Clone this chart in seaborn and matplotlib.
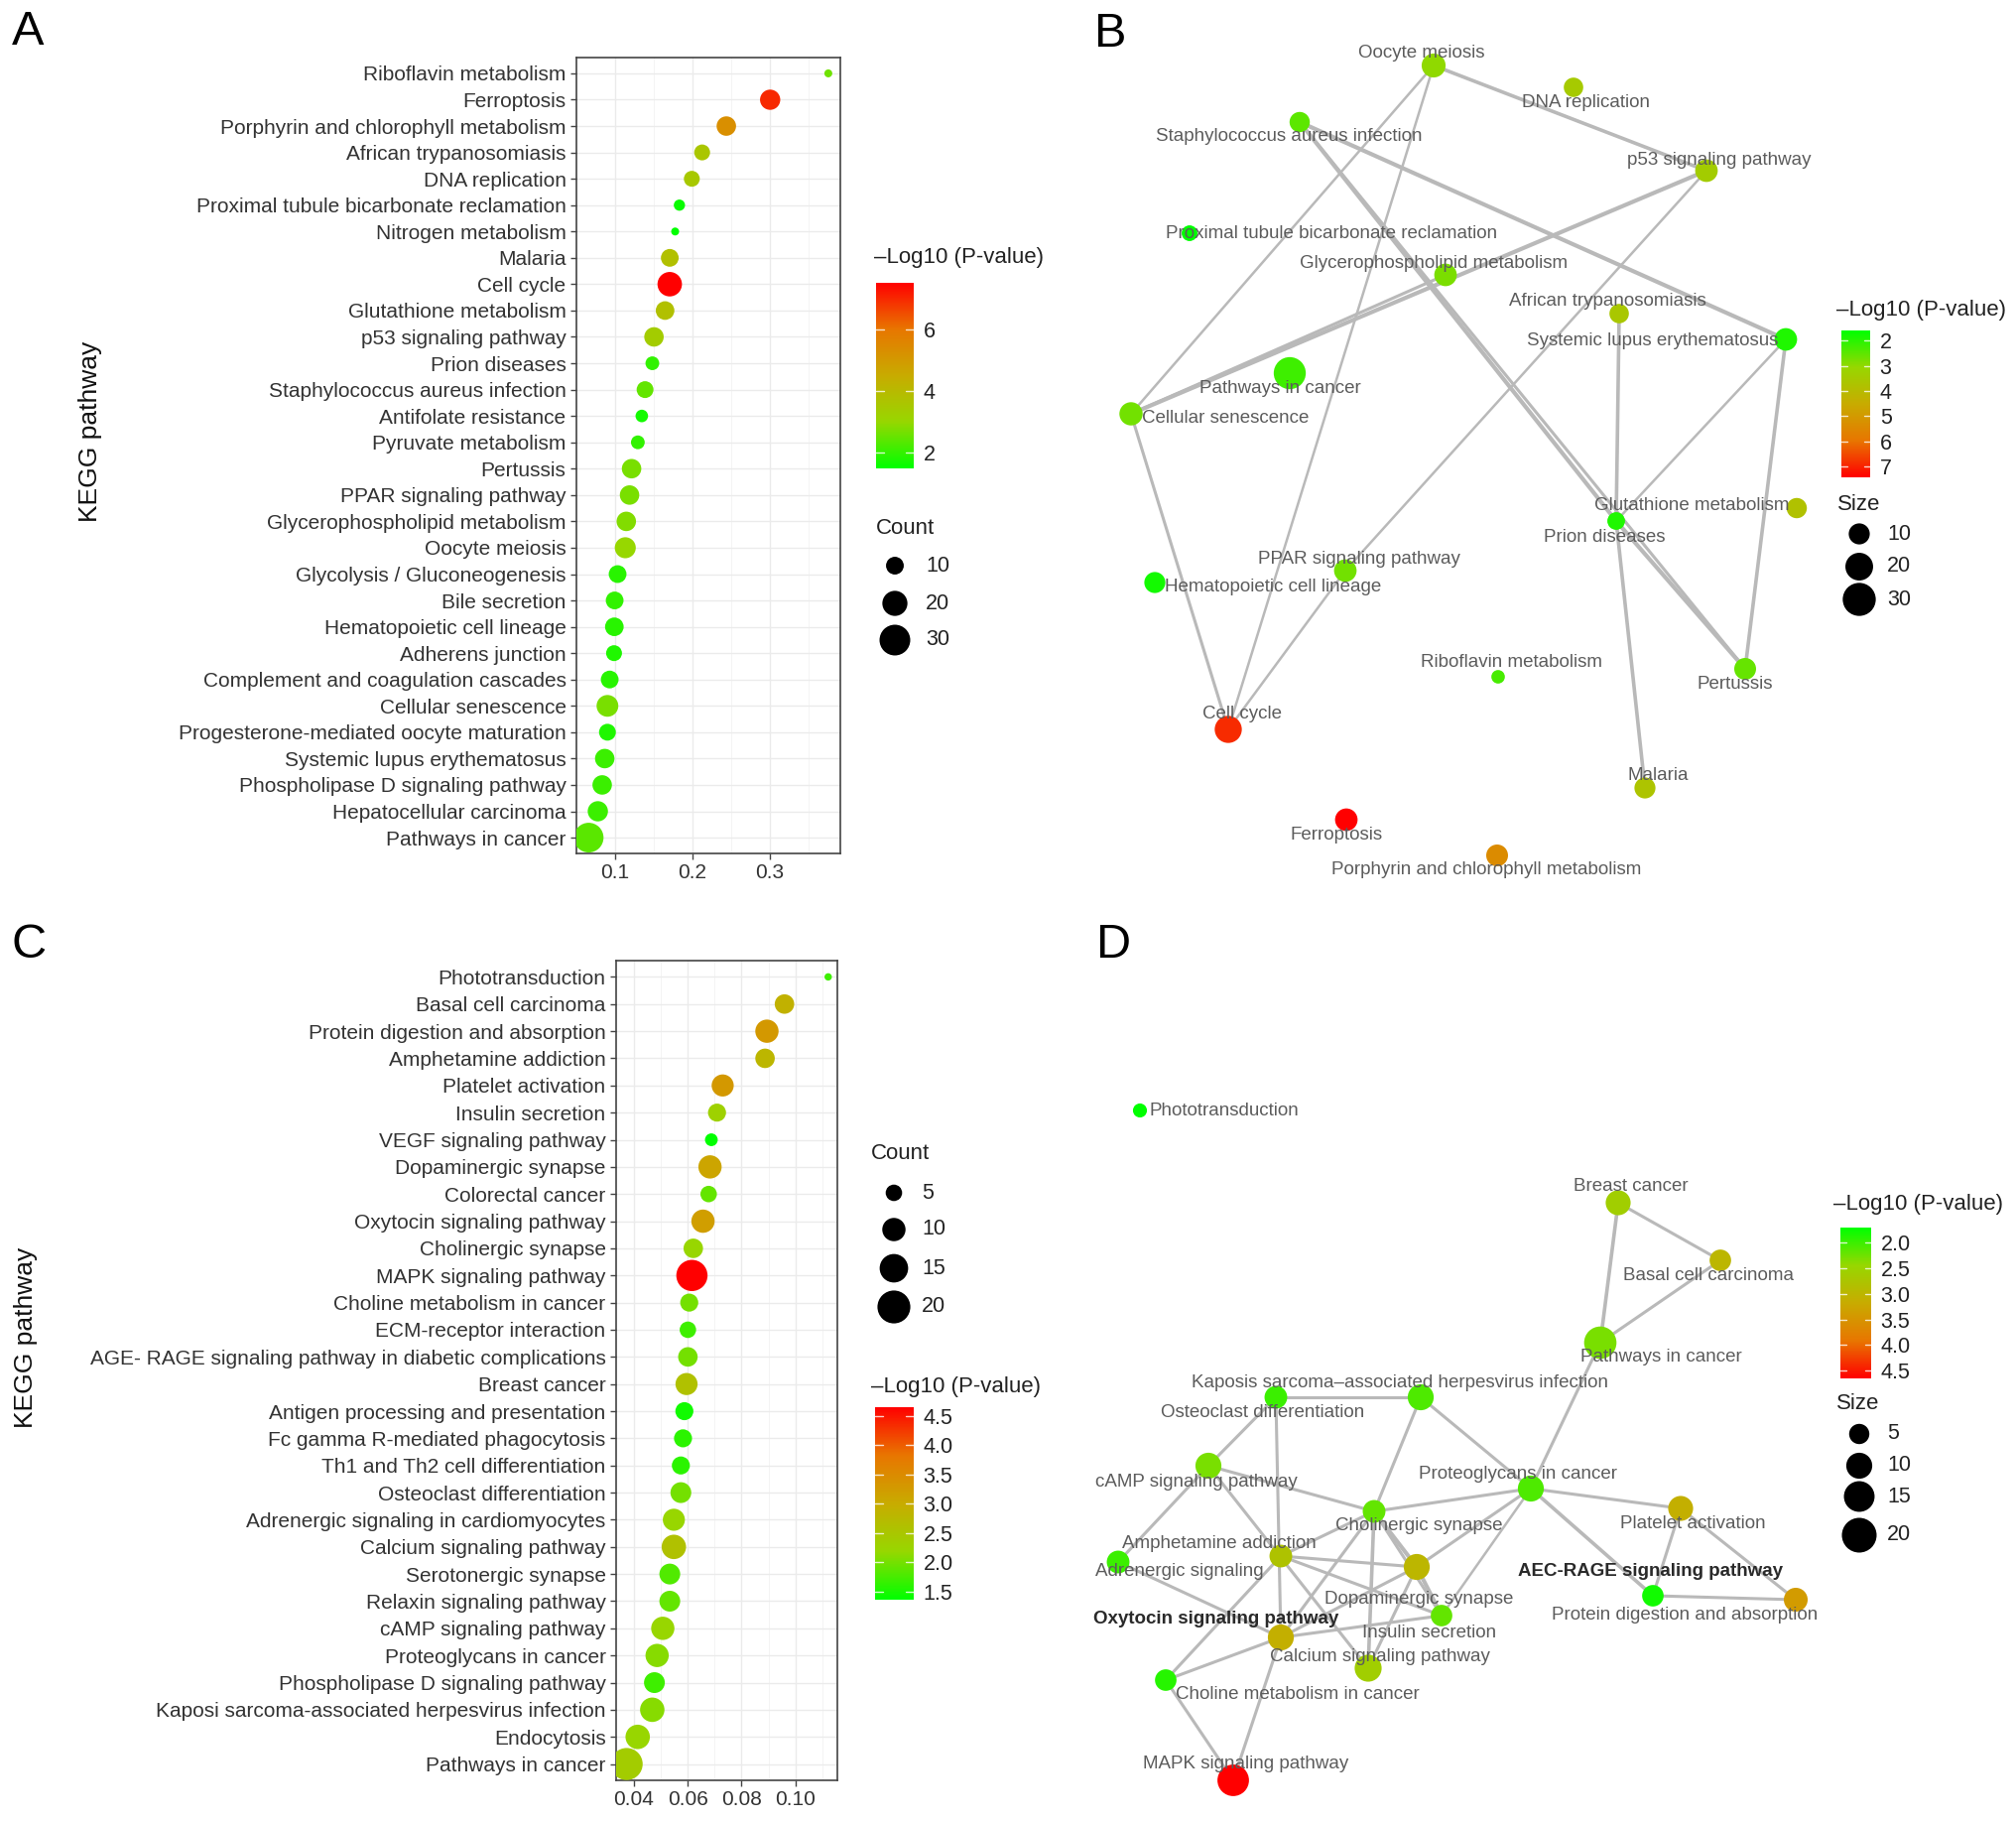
import numpy as np
import pandas as pd
import matplotlib
matplotlib.use('Agg')
import matplotlib.pyplot as plt
import seaborn as sns
from matplotlib.colors import LinearSegmentedColormap, Normalize
from matplotlib.cm import ScalarMappable
from matplotlib.ticker import MultipleLocator

W, H, DPI = 2032, 1836, 100

# ---- panel A: KEGG dot plot ----
terms_a = ['Riboflavin metabolism', 'Ferroptosis', 'Porphyrin and chlorophyll metabolism',
           'African trypanosomiasis', 'DNA replication', 'Proximal tubule bicarbonate reclamation',
           'Nitrogen metabolism', 'Malaria', 'Cell cycle', 'Glutathione metabolism',
           'p53 signaling pathway', 'Prion diseases', 'Staphylococcus aureus infection',
           'Antifolate resistance', 'Pyruvate metabolism', 'Pertussis', 'PPAR signaling pathway',
           'Glycerophospholipid metabolism', 'Oocyte meiosis', 'Glycolysis / Gluconeogenesis',
           'Bile secretion', 'Hematopoietic cell lineage', 'Adherens junction',
           'Complement and coagulation cascades', 'Cellular senescence',
           'Progesterone-mediated oocyte maturation', 'Systemic lupus erythematosus',
           'Phospholipase D signaling pathway', 'Hepatocellular carcinoma', 'Pathways in cancer']
ratio_a = [0.3755, 0.3005, 0.244, 0.2128, 0.1995, 0.1835, 0.178, 0.1711, 0.171, 0.165,
           0.1507, 0.1486, 0.1392, 0.135, 0.1299, 0.1218, 0.1192, 0.115, 0.1137, 0.1038,
           0.100, 0.0996, 0.0992, 0.0936, 0.0907, 0.0907, 0.0872, 0.0839, 0.0783, 0.0665]
logp_a = [2.6, 7.0, 5.3, 3.6, 3.5, 1.6, 1.49, 3.8, 7.53, 3.8,
          3.4, 2.0, 2.5, 1.7, 2.0, 2.7, 2.7, 2.8, 3.0, 1.9,
          2.0, 1.9, 1.8, 1.9, 2.7, 1.8, 2.1, 2.1, 2.1, 2.4]
count_a = [2, 13, 12, 8, 8, 4, 2, 10, 19, 11,
           12, 6, 9, 5, 6, 12, 12, 12, 14, 10,
           10, 11, 8, 10, 15, 9, 12, 12, 13, 28]

# ---- panel C: KEGG dot plot ----
terms_c = ['Phototransduction', 'Basal cell carcinoma', 'Protein digestion and absorption',
           'Amphetamine addiction', 'Platelet activation', 'Insulin secretion',
           'VEGF signaling pathway', 'Dopaminergic synapse', 'Colorectal cancer',
           'Oxytocin signaling pathway', 'Cholinergic synapse', 'MAPK signaling pathway',
           'Choline metabolism in cancer', 'ECM-receptor interaction',
           'AGE- RAGE signaling pathway in diabetic complications', 'Breast cancer',
           'Antigen processing and presentation', 'Fc gamma R-mediated phagocytosis',
           'Th1 and Th2 cell differentiation', 'Osteoclast differentiation',
           'Adrenergic signaling in cardiomyocytes', 'Calcium signaling pathway',
           'Serotonergic synapse', 'Relaxin signaling pathway', 'cAMP signaling pathway',
           'Proteoglycans in cancer', 'Phospholipase D signaling pathway',
           'Kaposi sarcoma-associated herpesvirus infection', 'Endocytosis', 'Pathways in cancer']
ratio_c = [0.1121, 0.0959, 0.0894, 0.0887, 0.0730, 0.0709, 0.0688, 0.0683, 0.0678, 0.0657,
           0.0621, 0.0616, 0.0606, 0.0601, 0.0601, 0.0596, 0.0588, 0.0583, 0.0575, 0.0575,
           0.0549, 0.0549, 0.0534, 0.0534, 0.0508, 0.0487, 0.0477, 0.0469, 0.0415, 0.0374]
logp_c = [1.7, 2.9, 3.3, 2.8, 3.3, 2.3, 1.36, 3.1, 1.9, 3.2,
          2.2, 4.65, 2.0, 1.7, 2.0, 2.6, 1.45, 1.6, 1.6, 2.0,
          2.2, 2.6, 1.8, 1.9, 2.2, 2.1, 1.7, 2.1, 2.2, 2.4]
count_c = [1, 7, 10, 7, 9, 6, 3, 10, 5, 10,
           7, 18, 6, 5, 7, 9, 6, 6, 6, 8,
           9, 11, 8, 8, 10, 10, 8, 11, 11, 19]

# ---- panel B: network (layout coordinates) ----
nodes_b = ['Oocyte meiosis', 'DNA replication', 'Staphylococcus aureus infection',
           'p53 signaling pathway', 'Proximal tubule bicarbonate reclamation',
           'Glycerophospholipid metabolism', 'African trypanosomiasis',
           'Systemic lupus erythematosus', 'Pathways in cancer', 'Cellular senescence',
           'Glutathione metabolism', 'Prion diseases', 'PPAR signaling pathway',
           'Hematopoietic cell lineage', 'Riboflavin metabolism', 'Pertussis', 'Cell cycle',
           'Malaria', 'Ferroptosis', 'Porphyrin and chlorophyll metabolism']
bx = [1445, 1586, 1310, 1720, 1199, 1457, 1632, 1800, 1300, 1140,
      1811, 1629, 1356, 1164, 1510, 1759, 1238, 1658, 1357, 1509]
by = [66, 88, 123, 172, 235, 277, 316, 342, 376, 417,
      512, 525, 575, 587, 682, 674, 735, 794, 826, 862]
logp_b = [3.0, 3.5, 2.5, 3.4, 1.6, 2.8, 3.6, 1.9, 2.2, 2.7,
          3.8, 1.9, 2.7, 1.8, 2.3, 2.6, 6.9, 3.7, 7.43, 5.4]
count_b = [14, 8, 9, 12, 4, 12, 8, 12, 28, 13,
           9, 6, 12, 10, 2, 11, 19, 10, 12, 11]
edges_b = [('Oocyte meiosis', 'p53 signaling pathway', 2.5),
           ('Oocyte meiosis', 'Cellular senescence', 1.5),
           ('Oocyte meiosis', 'Cell cycle', 1.5),
           ('Staphylococcus aureus infection', 'Systemic lupus erythematosus', 3),
           ('Staphylococcus aureus infection', 'Prion diseases', 3),
           ('Staphylococcus aureus infection', 'Pertussis', 2),
           ('p53 signaling pathway', 'Cellular senescence', 3),
           ('Glycerophospholipid metabolism', 'Cellular senescence', 2),
           ('p53 signaling pathway', 'PPAR signaling pathway', 1.5),
           ('PPAR signaling pathway', 'Cell cycle', 1.5),
           ('Cellular senescence', 'Cell cycle', 2),
           ('African trypanosomiasis', 'Prion diseases', 2.5),
           ('Prion diseases', 'Malaria', 2.5),
           ('Systemic lupus erythematosus', 'Prion diseases', 1.5),
           ('Systemic lupus erythematosus', 'Pertussis', 2.5),
           ('Prion diseases', 'Pertussis', 3)]

# ---- panel D: network ----
nodes_d = ['Phototransduction', 'Breast cancer', 'Basal cell carcinoma', 'Pathways in cancer',
           'Kaposis sarcoma\u2013associated herpesvirus infection', 'Osteoclast differentiation',
           'cAMP signaling pathway', 'Proteoglycans in cancer', 'Platelet activation',
           'Cholinergic synapse', 'Amphetamine addiction', 'Adrenergic signaling',
           'Dopaminergic synapse', 'AEC-RAGE signaling pathway',
           'Protein digestion and absorption', 'Insulin secretion',
           'Oxytocin signaling pathway', 'Calcium signaling pathway',
           'Choline metabolism in cancer', 'MAPK signaling pathway']
dx_ = [1149, 1631, 1734, 1613, 1432, 1286, 1218, 1543, 1694, 1385,
       1291, 1127, 1428, 1666, 1810, 1453, 1291, 1379, 1175, 1243]
dy_ = [1119, 1212, 1270, 1353, 1408, 1408, 1477, 1500, 1520, 1523,
       1568, 1574, 1579, 1608, 1612, 1628, 1650, 1681, 1693, 1794]
logp_d = [1.71, 2.6, 3.0, 2.3, 2.1, 2.0, 2.3, 2.1, 3.1, 2.2,
          2.8, 2.0, 3.0, 1.8, 3.4, 2.2, 3.1, 2.6, 1.9, 4.65]
count_d = [1, 9, 6, 17, 10, 7, 10, 10, 9, 7,
           7, 7, 10, 6, 8, 6, 10, 11, 6, 16]
KSHV = 'Kaposis sarcoma\u2013associated herpesvirus infection'
edges_d = [('Breast cancer', 'Basal cell carcinoma', 2),
           ('Breast cancer', 'Pathways in cancer', 2.5),
           ('Basal cell carcinoma', 'Pathways in cancer', 2),
           ('Pathways in cancer', 'Proteoglycans in cancer', 2),
           (KSHV, 'Osteoclast differentiation', 2),
           (KSHV, 'Proteoglycans in cancer', 2),
           (KSHV, 'Cholinergic synapse', 2),
           ('Osteoclast differentiation', 'cAMP signaling pathway', 2),
           ('Osteoclast differentiation', 'Oxytocin signaling pathway', 2),
           ('cAMP signaling pathway', 'Adrenergic signaling', 2),
           ('cAMP signaling pathway', 'Cholinergic synapse', 2),
           ('cAMP signaling pathway', 'Calcium signaling pathway', 2),
           ('Proteoglycans in cancer', 'Cholinergic synapse', 2),
           ('Proteoglycans in cancer', 'Dopaminergic synapse', 2),
           ('Proteoglycans in cancer', 'Insulin secretion', 1.5),
           ('Proteoglycans in cancer', 'Platelet activation', 2),
           ('Proteoglycans in cancer', 'AEC-RAGE signaling pathway', 2.5),
           ('Platelet activation', 'AEC-RAGE signaling pathway', 2),
           ('Platelet activation', 'Protein digestion and absorption', 2),
           ('AEC-RAGE signaling pathway', 'Protein digestion and absorption', 2),
           ('Cholinergic synapse', 'Amphetamine addiction', 2),
           ('Cholinergic synapse', 'Dopaminergic synapse', 3),
           ('Cholinergic synapse', 'Insulin secretion', 2),
           ('Cholinergic synapse', 'Calcium signaling pathway', 2.5),
           ('Cholinergic synapse', 'Oxytocin signaling pathway', 2),
           ('Amphetamine addiction', 'Dopaminergic synapse', 2),
           ('Amphetamine addiction', 'Insulin secretion', 2),
           ('Amphetamine addiction', 'Choline metabolism in cancer', 2),
           ('Adrenergic signaling', 'Oxytocin signaling pathway', 2),
           ('Oxytocin signaling pathway', 'Insulin secretion', 2),
           ('Oxytocin signaling pathway', 'Dopaminergic synapse', 2),
           ('Oxytocin signaling pathway', 'Choline metabolism in cancer', 2),
           ('Oxytocin signaling pathway', 'MAPK signaling pathway', 2),
           ('Choline metabolism in cancer', 'MAPK signaling pathway', 2),
           ('Calcium signaling pathway', 'Dopaminergic synapse', 2),
           ('Dopaminergic synapse', 'Insulin secretion', 3)]

# label placement (offset from node centre, px) - layout only
off_b = {'Oocyte meiosis': (-12, -12), 'DNA replication': (12, 15),
         'Staphylococcus aureus infection': (-11, 15), 'p53 signaling pathway': (13, -11),
         'Proximal tubule bicarbonate reclamation': (143, 0),
         'Glycerophospholipid metabolism': (-12, -11), 'African trypanosomiasis': (-12, -13),
         'Systemic lupus erythematosus': (-134, 1), 'Pathways in cancer': (-10, 15),
         'Cellular senescence': (95, 4), 'Glutathione metabolism': (-106, -2),
         'Prion diseases': (-12, 17), 'PPAR signaling pathway': (14, -12),
         'Hematopoietic cell lineage': (119, 5), 'Riboflavin metabolism': (13, -14),
         'Pertussis': (-10, 15), 'Cell cycle': (14, -16), 'Malaria': (13, -12),
         'Ferroptosis': (-10, 16), 'Porphyrin and chlorophyll metabolism': (-11, 15)}
off_d = {'Phototransduction': (85, 0), 'Breast cancer': (13, -16),
         'Basal cell carcinoma': (-12, 16), 'Pathways in cancer': (61, 15),
         KSHV: (-21, -15), 'Osteoclast differentiation': (-13, 16),
         'cAMP signaling pathway': (-12, 17), 'Proteoglycans in cancer': (-13, -15),
         'Platelet activation': (12, 15), 'Cholinergic synapse': (45, 15),
         'Amphetamine addiction': (-62, -12), 'Adrenergic signaling': (62, 10),
         'Dopaminergic synapse': (2, 33), 'AEC-RAGE signaling pathway': (-3, -24),
         'Protein digestion and absorption': (-112, 15), 'Insulin secretion': (-12, 17),
         'Oxytocin signaling pathway': (-65, -19), 'Calcium signaling pathway': (12, -12),
         'Choline metabolism in cancer': (133, 14), 'MAPK signaling pathway': (13, -16)}

sns.set_style('white')
plt.rcParams['font.family'] = ['Liberation Sans', 'DejaVu Sans']

cmap = LinearSegmentedColormap.from_list(
    'green_red', [(0, '#00ff00'), (0.25, '#97d700'), (0.5, '#c8ab00'), (0.75, '#e87600'), (1, '#ff0000')])

fig = plt.figure(figsize=(W / DPI, H / DPI), dpi=DPI)
PT = 72 / DPI


def px_axes(x0, y0, x1, y1):
    return fig.add_axes([x0 / W, 1 - y1 / H, (x1 - x0) / W, (y1 - y0) / H])


def ftext(x, y, s, **kw):
    fig.text(x / W, 1 - y / H, s, **kw)


def area(d2):
    # squared diameter in px -> scatter area in pt^2
    return d2 * PT * PT


def dot_panel(box, terms, ratio, logp, count, xlim, major, minor, hue_lim, d2, nmax):
    ax = px_axes(*box)
    df = pd.DataFrame({'term': terms, 'ratio': ratio, 'logp': logp, 'count': count})
    sns.scatterplot(data=df, x='ratio', y='term', hue='logp', size='count', palette=cmap,
                    hue_norm=hue_lim, size_norm=(0, nmax), sizes=(area(d2(0)), area(d2(nmax))),
                    linewidth=0, legend=False, ax=ax, zorder=3)
    ax.set_xlim(*xlim)
    ax.set_ylim(len(terms) - 0.4, -0.6)
    ax.xaxis.set_major_locator(MultipleLocator(major))
    ax.xaxis.set_minor_locator(MultipleLocator(minor))
    ax.set_axisbelow(True)
    ax.grid(which='major', color='#ebebeb', lw=1.0)
    ax.grid(which='minor', axis='x', color='#f2f2f2', lw=0.6)
    for sp in ax.spines.values():
        sp.set_color('#444444')
        sp.set_linewidth(1.2)
    ax.tick_params(which='major', direction='out', length=4, width=1, color='#444444',
                   labelsize=15, labelcolor='#333333', pad=3.5, left=True, bottom=True)
    ax.tick_params(which='minor', length=0)
    ax.set_xlabel('')
    ax.set_ylabel('')
    return ax


def net_panel(box, names, nx, ny, logp, count, edges, offs, hue_lim, d2, nmax, bold=()):
    ax = px_axes(*box)
    pos = dict(zip(names, zip(nx, ny)))
    for a, b, w in edges:
        ax.plot([pos[a][0], pos[b][0]], [pos[a][1], pos[b][1]], color='#b9b9b9',
                lw=0.8 * w + 0.6, zorder=1, solid_capstyle='round')
    df = pd.DataFrame({'name': names, 'x': nx, 'y': ny, 'logp': logp, 'count': count})
    sns.scatterplot(data=df, x='x', y='y', hue='logp', size='count', palette=cmap,
                    hue_norm=hue_lim, size_norm=(0, nmax), sizes=(area(d2(0)), area(d2(nmax))),
                    linewidth=0, legend=False, ax=ax, zorder=3)
    for n in names:
        ox, oy = offs[n]
        heavy = n in bold
        ax.text(pos[n][0] + ox, pos[n][1] + oy, n, ha='center', va='center', fontsize=13.5,
                color='#2a2a2a' if heavy else '#5c5c5c', fontweight='bold' if heavy else 'normal',
                zorder=4)
    ax.set_xlim(box[0], box[2])
    ax.set_ylim(box[3], box[1])
    ax.axis('off')
    return ax


def colorbar(box, lim, ticks, fmt, reverse=False):
    cax = px_axes(*box)
    sm = ScalarMappable(norm=Normalize(*lim), cmap=cmap)
    cb = fig.colorbar(sm, cax=cax)
    cb.outline.set_visible(False)
    cb.set_ticks(ticks)
    cb.set_ticklabels([fmt.format(t) for t in ticks])
    cax.tick_params(length=0, labelsize=15.5, labelcolor='#222222', pad=7)
    for t in ticks:
        cax.plot([0, 0.2], [t, t], color='white', lw=1, alpha=0.8)
        cax.plot([0.8, 1], [t, t], color='white', lw=1, alpha=0.8)
    if reverse:
        cax.invert_yaxis()


# size mappings (squared diameter in px as function of count)
d2_a = lambda v: 32.0 * v
d2_b = lambda v: 120.0 + 33.0 * v
d2_c = lambda v: 55.0 * v
d2_d = lambda v: 146.0 + 54.0 * v

dot_panel((581, 58, 847, 860), terms_a, ratio_a, logp_a, count_a,
          (0.0507, 0.391), 0.1, 0.05, (1.49, 7.53), d2_a, 30)
dot_panel((621, 968, 844, 1794), terms_c, ratio_c, logp_c, count_c,
          (0.0335, 0.1155), 0.02, 0.01, (1.36, 4.65), d2_c, 20)
net_panel((1080, 0, 2032, 910), nodes_b, bx, by, logp_b, count_b, edges_b, off_b,
          (1.6, 7.43), d2_b, 30)
net_panel((1080, 920, 2032, 1836), nodes_d, dx_, dy_, logp_d, count_d, edges_d, off_d,
          (1.71, 4.65), d2_d, 20, bold=('Oxytocin signaling pathway', 'AEC-RAGE signaling pathway'))

colorbar((883, 285, 921, 472), (1.49, 7.53), [2, 4, 6], '{:g}')
colorbar((882, 1418, 921, 1612), (1.36, 4.65), [1.5, 2.0, 2.5, 3.0, 3.5, 4.0, 4.5], '{:.1f}')
colorbar((1856, 333, 1885, 481), (1.6, 7.43), [2, 3, 4, 5, 6, 7], '{:g}', reverse=True)
colorbar((1855, 1237, 1886, 1389), (1.71, 4.65), [2.0, 2.5, 3.0, 3.5, 4.0, 4.5], '{:.1f}', reverse=True)

# overlay for legend keys
ov = fig.add_axes([0, 0, 1, 1])
ov.set_xlim(0, W)
ov.set_ylim(H, 0)
ov.axis('off')


def size_legend(title, tx, ty, kx, ys, vals, d2, lx):
    ftext(tx, ty, title, fontsize=16, color='#222222', va='center', ha='left')
    ov.scatter([kx] * len(ys), ys, s=[area(d2(v)) for v in vals], color='black', lw=0)
    for yy, v in zip(ys, vals):
        ftext(lx, yy, str(v), fontsize=15.5, color='#222222', va='center', ha='left')


lab = '\u2013Log10 (P-value)'
ftext(881, 260, lab, fontsize=16, color='#222222', va='center')
size_legend('Count', 883, 532, 902, [570, 608, 645], [10, 20, 30], d2_a, 933)
size_legend('Count', 878, 1163, 901, [1202, 1239, 1278, 1317], [5, 10, 15, 20], d2_c, 929)
ftext(878, 1398, lab, fontsize=16, color='#222222', va='center')
ftext(1851, 312, lab, fontsize=16, color='#222222', va='center')
size_legend('Size', 1852, 508, 1874, [538, 571, 604], [10, 20, 30], d2_b, 1902)
ftext(1848, 1214, lab, fontsize=16, color='#222222', va='center')
size_legend('Size', 1851, 1415, 1874, [1445, 1477, 1508, 1547], [5, 10, 15, 20], d2_d, 1902)

ftext(91, 435, 'KEGG pathway', fontsize=19, rotation=90, ha='center', va='center', color='#111111')
ftext(26, 1348, 'KEGG pathway', fontsize=19, rotation=90, ha='center', va='center', color='#111111')

for letter, x, y in [('A', 12, 10), ('B', 1103, 12), ('C', 11, 930), ('D', 1105, 930)]:
    ftext(x, y, letter, fontsize=35, ha='left', va='top', color='black')

fig.savefig('out.png', dpi=DPI, facecolor='white')
